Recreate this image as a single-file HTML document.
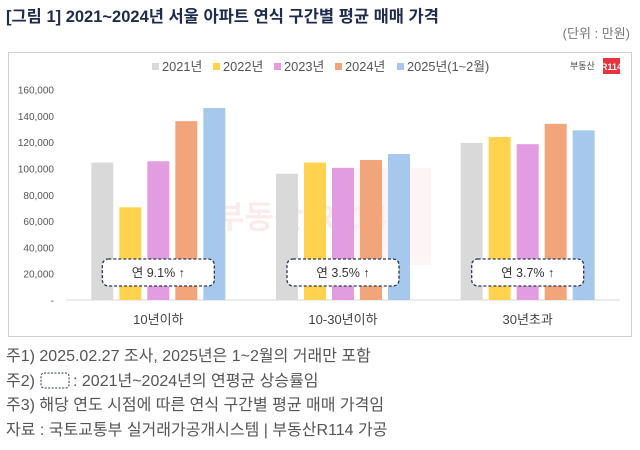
<!DOCTYPE html>
<html><head><meta charset="utf-8"><style>
body{margin:0;width:640px;height:445px;background:#fff;overflow:hidden;font-family:"Liberation Sans","Noto Sans CJK KR",sans-serif;}
svg text{font-family:"Liberation Sans","Noto Sans CJK KR",sans-serif;}
</style></head><body>
<svg id="c" width="640" height="445" xmlns="http://www.w3.org/2000/svg">
<text x="6" y="22" font-size="16.5" font-weight="bold" fill="#1f2a4d">[그림 1] 2021~2024년 서울 아파트 연식 구간별 평균 매매 가격</text>
<text x="630" y="38" font-size="13" fill="#777" text-anchor="end">(단위 : 만원)</text>
<rect x="8.5" y="52.5" width="623" height="284" fill="#fff" stroke="#d0d0d0"/>
<g opacity="0.07"><rect x="343" y="168" width="88" height="97" fill="#f08080"/><text x="215" y="228" font-size="32" font-weight="bold" fill="#c00">부동산 R114</text></g>
<g id="plot"></g>
<g id="legend"></g>
<text x="570" y="69" font-size="9" fill="#444">부동산</text>
<rect x="603" y="58" width="17" height="16" fill="#e8323c"/>
<text x="611.5" y="70" font-size="9" font-weight="bold" fill="#fff" text-anchor="middle">R114</text>
<g font-size="16" fill="#555">
<text x="6" y="361">주1) 2025.02.27 조사, 2025년은 1~2월의 거래만 포함</text>
<text x="6" y="386">주2)</text>
<rect x="41" y="373" width="28" height="15" rx="3" fill="none" stroke="#2a3550" stroke-dasharray="2,1.5"/>
<text x="73" y="386">: 2021년~2024년의 연평균 상승률임</text>
<text x="6" y="410">주3) 해당 연도 시점에 따른 연식 구간별 평균 매매 가격임</text>
<text x="6" y="435">자료 : 국토교통부 실거래가공개시스템 | 부동산R114 가공</text>
</g>
</svg>
<script>
const categories=["10년이하","10-30년이하","30년초과"];
const seriesNames=["2021년","2022년","2023년","2024년","2025년(1~2월)"];
const s2021=[104500,96000,119500];
const s2022=[70500,104500,124000];
const s2023=[105500,100500,118500];
const s2024=[136000,106500,134000];
const s2025=[146000,111000,129000];
const growth=["연 9.1% ↑","연 3.5% ↑","연 3.7% ↑"];
const yTicks=[0,20000,40000,60000,80000,100000,120000,140000,160000];
const yTickLabels=["-","20,000","40,000","60,000","80,000","100,000","120,000","140,000","160,000"];
const colors=["#d9d9d9","#ffd34f","#e29ce0","#f2a57a","#a5c8ec"];
const series=[s2021,s2022,s2023,s2024,s2025];
const NS="http://www.w3.org/2000/svg";
const plot=document.getElementById('plot'),legend=document.getElementById('legend');
const x0=66,x1=620,y0=300,yTop=89.6,ymax=160000;
const y=v=>y0-(v/ymax)*(y0-yTop);
const bw=(x1-x0)/categories.length;
const cx=i=>x0+bw*(i+0.5);
function mk(t,a,p){const e=document.createElementNS(NS,t);for(const k in a)e.setAttribute(k,a[k]);(p||plot).appendChild(e);return e;}
yTicks.forEach((v,i)=>{const t=mk('text',{x:54,y:y(v)+4,'font-size':10,fill:'#555','text-anchor':'end'});

t.textContent=yTickLabels[i];});
const ax=mk('line',{x1:x0,x2:x1,y1:y0,y2:y0,stroke:'#d9d9d9','stroke-width':1});


const barW=22,step=28;
categories.forEach((c,i)=>{
 series.forEach((s,j)=>{const bx=cx(i)-2*step-barW/2+j*step;
  const r=mk('rect',{x:bx,y:y(s[i]),width:barW,height:y0-y(s[i]),fill:colors[j]});
  
  });
 const l=mk('text',{x:cx(i),y:324,'font-size':13,fill:'#444','text-anchor':'middle'});
 
 l.textContent=c;
 const b=mk('rect',{x:cx(i)-56,y:259,width:112,height:27,rx:6,fill:'#fff',stroke:'#2a3550','stroke-width':1.3,'stroke-dasharray':'3,2'});
 
 
 const g=mk('text',{x:cx(i),y:277,'font-size':12.5,fill:'#333','text-anchor':'middle'});
 
 g.textContent=growth[i];
});
const lx=[152,213,274,335,397];
seriesNames.forEach((n,j)=>{
 const r=mk('rect',{x:lx[j],y:63,width:7,height:7,fill:colors[j]},legend);
 
 
 const t=mk('text',{x:lx[j]+10,y:71,'font-size':12.8,fill:'#555'},legend);
 
 t.textContent=n;
});
</script>
</body></html>
